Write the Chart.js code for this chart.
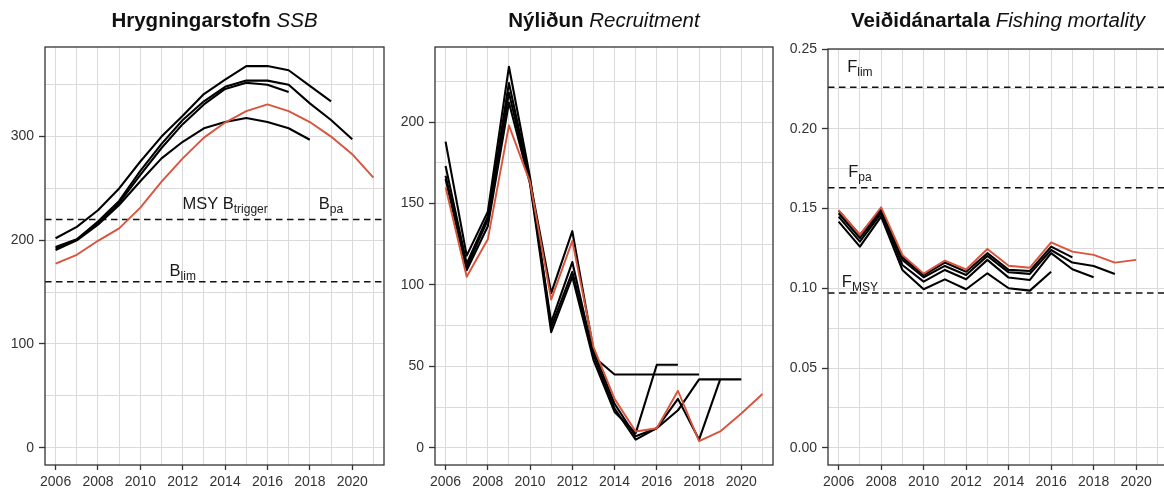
<!DOCTYPE html>
<html>
<head>
<meta charset="utf-8">
<script src="https://cdn.jsdelivr.net/npm/chart.js@4.4.1/dist/chart.umd.min.js"></script>
<style>
  html, body { margin: 0; padding: 0; background: #fff; overflow: hidden; }
  body { width: 1164px; height: 493px; position: relative; }
  canvas { position: absolute; top: 0; }
</style>
</head>
<body>
<canvas id="ssb" width="390" height="493" style="left:0px"></canvas>
<canvas id="rec" width="390" height="493" style="left:390px"></canvas>
<canvas id="fmort" width="400" height="493" style="left:776px"></canvas>
<script>
const years = [2006, 2007, 2008, 2009, 2010, 2011, 2012, 2013, 2014, 2015, 2016, 2017, 2018, 2019, 2020, 2021];
const yearLabels = [2006, 2008, 2010, 2012, 2014, 2016, 2018, 2020];

// Hrygningarstofn (SSB), last assessment + retro runs
const ssbFinal = [177.5, 186, 199.5, 211.5, 231.5, 256.5, 279, 299, 313.5, 324.5, 331, 324.5, 314, 300, 283, 260.5];
const ssbRetro2020 = [193.5, 201, 218, 238, 267, 293, 316, 334, 348, 354, 354, 350, 332, 316, 297.5];
const ssbRetro2019 = [202, 213, 229, 250, 276, 300, 320, 341, 355, 368, 368, 364, 349, 334];
const ssbRetro2018 = [190.5, 200, 215, 234, 257, 279, 295, 308, 314, 318, 314, 308, 297];
const ssbRetro2017 = [192, 200.5, 216, 236, 263, 289, 312, 331, 346, 352, 350, 343];
const ssbRefs = [220, 160];
const ssbGrid = [0, 50, 100, 150, 200, 250, 300, 350];
const ssbLabels = [0, 100, 200, 300];

// Nýliðun (recruitment)
const recFinal = [160, 105, 128, 198, 163, 91, 127, 62, 30, 10, 12, 35, 4, 10, 21, 33];
const recRetro2020 = [173, 113, 142, 224, 164, 95, 133, 60, 27, 7, 12, 30, 5, 42, 42];
const recRetro2019 = [167, 111, 140, 218, 163, 77, 114, 57, 24, 5, 12, 23, 42, 42];
const recRetro2018 = [188, 118, 145, 234, 166, 74, 108, 56, 45, 45, 45, 45, 45];
const recRetro2017 = [165, 109, 136, 212, 162, 71, 105, 54, 22, 9, 51, 51];
const recGrid = [0, 25, 50, 75, 100, 125, 150, 175, 200, 225];
const recLabels = [0, 50, 100, 150, 200];

// Veiðidánartala (F)
const fFinal = [0.149, 0.1335, 0.1508, 0.1209, 0.1092, 0.1174, 0.1118, 0.1246, 0.1141, 0.1129, 0.1287, 0.123, 0.1209, 0.1161, 0.1178];
const fRetro2019 = [0.147, 0.1314, 0.148, 0.1178, 0.1069, 0.114, 0.1083, 0.1203, 0.11, 0.109, 0.124, 0.1161, 0.114, 0.109];
const fRetro2018 = [0.1449, 0.1292, 0.147, 0.1146, 0.1042, 0.1115, 0.1056, 0.1178, 0.1067, 0.1052, 0.122, 0.1119, 0.1069];
const fRetro2017 = [0.1487, 0.1334, 0.1496, 0.1194, 0.1083, 0.1161, 0.1104, 0.122, 0.1115, 0.1108, 0.1261, 0.1194];
const fRetro2016 = [0.1418, 0.1261, 0.1449, 0.1115, 0.0994, 0.1056, 0.0994, 0.1094, 0.1, 0.0985, 0.1104];
const fRefs = [0.226, 0.163, 0.097];
const fGrid = [0, 0.025, 0.05, 0.075, 0.1, 0.125, 0.15, 0.175, 0.2, 0.225, 0.25];
const fLabels = [0, 0.05, 0.1, 0.15, 0.2, 0.25];

const RED = '#d9543c';
const FONT = '"Liberation Sans", Arial, Helvetica, sans-serif';
const X_MIN = 2005.5, X_MAX = 2021.5;

Chart.defaults.font.family = FONT;
Chart.defaults.font.size = 14;
Chart.defaults.color = '#333';

function series (vals) {
  return vals.map((v, i) => ({ x: years[i], y: v }));
}
function isIn (list, v) {
  return list.some(l => Math.abs(l - v) < 1e-9);
}

function lineSet (vals, colour, width) {
  return {
    data: series(vals), borderColor: colour, borderWidth: width,
    pointRadius: 0, tension: 0, fill: false, borderJoinStyle: 'round'
  };
}
function refSet (level) {
  return {
    data: [{ x: X_MIN, y: level }, { x: X_MAX, y: level }],
    borderColor: '#111', borderWidth: 1.6, borderDash: [6.5, 4.5],
    pointRadius: 0, fill: false
  };
}

// ramminn, titill og textar vid vidmidunarlinur
const panelDeco = {
  id: 'panelDeco',
  afterDatasetsDraw (chart, args, opts) {
    const { ctx, chartArea: a, scales } = chart;
    ctx.save();
    ctx.fillStyle = '#1a1a1a';
    ctx.textBaseline = 'alphabetic';
    ctx.textAlign = 'left';
    opts.notes.forEach(n => {
      ctx.font = '16.5px ' + FONT;
      const w1 = ctx.measureText(n.main).width;
      ctx.font = '12px ' + FONT;
      const w2 = ctx.measureText(n.sub).width;
      const x0 = scales.x.getPixelForValue(n.x) - (w1 + w2) / 2;
      const y0 = scales.y.getPixelForValue(n.y);
      ctx.font = '16.5px ' + FONT;
      ctx.fillText(n.main, x0, y0);
      ctx.font = '12px ' + FONT;
      ctx.fillText(n.sub, x0 + w1, y0 + 4);
    });
    ctx.strokeStyle = '#333';
    ctx.lineWidth = 1.3;
    ctx.strokeRect(a.left, a.top, a.width, a.height);

    // titill: feitletrad islenska + skaletrad enska
    ctx.fillStyle = '#111';
    ctx.font = 'bold 20.5px ' + FONT;
    const b = opts.bold + ' ';
    const wb = ctx.measureText(b).width;
    ctx.font = 'italic 20.5px ' + FONT;
    const wi = ctx.measureText(opts.italic).width;
    const tx = (a.left + a.right) / 2 - (wb + wi) / 2;
    ctx.font = 'bold 20.5px ' + FONT;
    ctx.fillText(b, tx, 27);
    ctx.font = 'italic 20.5px ' + FONT;
    ctx.fillText(opts.italic, tx + wb, 27);
    ctx.restore();
  }
};

function makePanel (id, p) {
  return new Chart(document.getElementById(id), {
    type: 'line',
    data: { datasets: p.datasets },
    plugins: [panelDeco],
    options: {
      responsive: false,
      animation: false,
      layout: { padding: { top: p.padTop, right: p.padRight, left: 0, bottom: 0 } },
      plugins: {
        legend: { display: false },
        tooltip: { enabled: false },
        panelDeco: { bold: p.bold, italic: p.italic, notes: p.notes }
      },
      scales: {
        x: {
          type: 'linear', min: X_MIN, max: X_MAX,
          afterBuildTicks: s => { s.ticks = years.map(v => ({ value: v })) },
          afterFit: s => { s.height = 28 },
          border: { display: false },
          grid: {
            color: '#dadada', lineWidth: 1, tickLength: 5,
            tickColor: c => isIn(yearLabels, c.tick.value) ? '#333' : 'rgba(0,0,0,0)',
            tickWidth: 1.3
          },
          ticks: {
            padding: 4, maxRotation: 0, autoSkip: false,
            callback: v => isIn(yearLabels, v) ? String(v) : ''
          }
        },
        y: {
          type: 'linear', min: p.yMin, max: p.yMax,
          afterBuildTicks: s => { s.ticks = p.grid.map(v => ({ value: v })) },
          afterFit: s => { s.width = p.yWidth },
          border: { display: false },
          grid: {
            color: '#dadada', lineWidth: 1, tickLength: 6,
            tickColor: c => isIn(p.labels, c.tick.value) ? '#333' : 'rgba(0,0,0,0)',
            tickWidth: 1.3
          },
          ticks: {
            padding: 5, autoSkip: false,
            callback: v => isIn(p.labels, v) ? p.fmt(v) : ''
          }
        }
      }
    }
  });
}

makePanel('ssb', {
  bold: 'Hrygningarstofn', italic: 'SSB',
  yMin: -16.7, yMax: 386.4, yWidth: 45, padRight: 6, padTop: 47,
  grid: ssbGrid, labels: ssbLabels, fmt: v => String(v),
  notes: [
    { main: 'MSY B', sub: 'trigger', x: 2014, y: 230 },
    { main: 'B', sub: 'pa', x: 2019, y: 230 },
    { main: 'B', sub: 'lim', x: 2012, y: 165.5 }
  ],
  datasets: [
    lineSet(ssbFinal, RED, 1.9),
    lineSet(ssbRetro2020, '#000', 2.1),
    lineSet(ssbRetro2019, '#000', 2.1),
    lineSet(ssbRetro2018, '#000', 2.1),
    lineSet(ssbRetro2017, '#000', 2.1),
    ...ssbRefs.map(refSet)
  ]
});

makePanel('rec', {
  bold: 'Nýliðun', italic: 'Recruitment',
  yMin: -10.6, yMax: 246.1, yWidth: 45, padRight: 7, padTop: 47,
  grid: recGrid, labels: recLabels, fmt: v => String(v),
  notes: [],
  datasets: [
    lineSet(recFinal, RED, 1.9),
    lineSet(recRetro2020, '#000', 2.1),
    lineSet(recRetro2019, '#000', 2.1),
    lineSet(recRetro2018, '#000', 2.1),
    lineSet(recRetro2017, '#000', 2.1)
  ]
});

makePanel('fmort', {
  bold: 'Veiðidánartala', italic: 'Fishing mortality',
  yMin: -0.0108, yMax: 0.25, yWidth: 52, padRight: 8, padTop: 49,
  grid: fGrid, labels: fLabels, fmt: v => v.toFixed(2),
  notes: [
    { main: 'F', sub: 'lim', x: 2007, y: 0.2355 },
    { main: 'F', sub: 'pa', x: 2007, y: 0.17 },
    { main: 'F', sub: 'MSY', x: 2007, y: 0.1006 }
  ],
  datasets: [
    lineSet(fFinal, RED, 1.9),
    lineSet(fRetro2019, '#000', 2.1),
    lineSet(fRetro2018, '#000', 2.1),
    lineSet(fRetro2017, '#000', 2.1),
    lineSet(fRetro2016, '#000', 2.1),
    ...fRefs.map(refSet)
  ]
});
</script>
</body>
</html>
